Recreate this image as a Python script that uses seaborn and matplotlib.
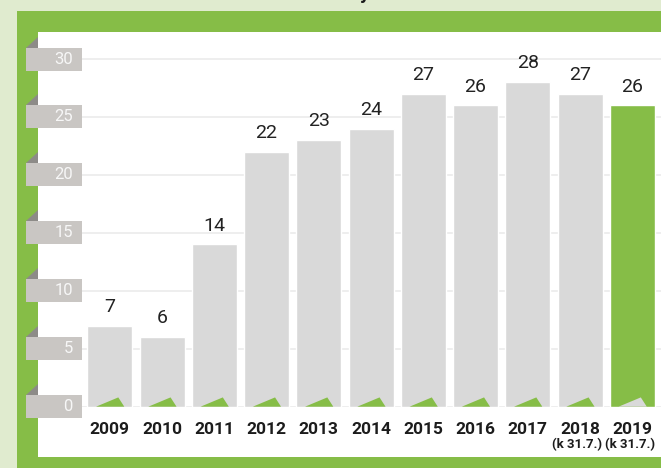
import numpy as np
import pandas as pd
import seaborn as sns
from matplotlib import pyplot as plt
from matplotlib import colors as mpl_colors
from matplotlib import transforms as mtrans
from matplotlib.patches import Rectangle, Polygon

years = ["2009", "2010", "2011", "2012", "2013", "2014", "2015", "2016", "2017", "2018", "2019"]
counts = [7, 6, 14, 22, 23, 24, 27, 26, 28, 27, 26]
notes = ["", "", "", "", "", "", "", "", "", "(k 31.7.)", "(k 31.7.)"]
y_ticks = [0, 5, 10, 15, 20, 25, 30]

GREEN = "#86bd47"
LIGHT_BG = "#e0ebcf"
BAR_GRAY = "#d9d9d9"
BOX_GRAY = "#c9c6c3"
FOLD_GRAY = "#8d8b88"

W, H = 661, 468

sns.set_style("white")
plt.rcParams["font.family"] = ["Roboto", "DejaVu Sans"]

df = pd.DataFrame({"year": years, "count": counts})
colors = [BAR_GRAY] * (len(years) - 1) + [GREEN]

fig = plt.figure(figsize=(W / 100, H / 100), dpi=100)
fig.patch.set_facecolor(LIGHT_BG)

# frame: green border and white panel (pixel coords, from top-left)
def px_rect(x0, y0, x1, y1, color, z):
    fig.patches.append(Rectangle((x0 / W, 1 - y1 / H), (x1 - x0) / W, (y1 - y0) / H,
                                 transform=fig.transFigure, facecolor=color,
                                 edgecolor="none", zorder=z))

px_rect(17, 11, W + 5, H + 5, GREEN, -2)
px_rect(37.5, 32, W + 5, 457, "white", -1)

# cut-off title descender
fig.text(365 / W, 1 + 0.6 / H, "y", ha="center", va="baseline", fontsize=14,
         fontweight="bold", color="#1a1a1a")

ax_l, ax_r = 81.7, 661
ax_b, ax_t = 406.7, 32
ax = fig.add_axes([ax_l / W, 1 - ax_b / H, (ax_r - ax_l) / W, (ax_b - ax_t) / H])
ax.set_facecolor("none")
ax.set_zorder(2)

sns.barplot(data=df, x="year", y="count", hue="year", palette=colors,
            width=0.86, dodge=False, legend=False, saturation=1, ax=ax)

px_per_unit = 11.59
ax.set_ylim(0, (ax_b - ax_t) / px_per_unit)
ax.set_xlim(-0.538, 10.549)
for s in ax.spines.values():
    s.set_visible(False)
ax.set_axisbelow(True)
ax.set_yticks(y_ticks)
ax.yaxis.grid(True, color="#ebebeb", linewidth=1.2)
ax.tick_params(axis="y", left=False, labelleft=False)
ax.tick_params(axis="x", bottom=False, pad=7.5)
ax.set_xlabel("")
ax.set_ylabel("")
for lab in ax.get_xticklabels():
    lab.set_fontweight("bold")
    lab.set_fontsize(12.5)
    lab.set_color("#1c1c1c")

# small triangles at the bottom of each bar
green_rgb = mpl_colors.to_rgb(GREEN)
for p in list(ax.patches):
    x, w = p.get_x(), p.get_width()
    fc = p.get_facecolor()
    tri_col = BAR_GRAY if np.allclose(fc[:3], green_rgb, atol=0.01) else GREEN
    tri = Polygon([(x + w * 8.7 / 45, 0), (x + w * 31 / 45, 9.3 / px_per_unit),
                   (x + w * 37 / 45, 0)], closed=True, facecolor=tri_col,
                  edgecolor="none", zorder=3)
    ax.add_patch(tri)

for c in ax.containers:
    ax.bar_label(c, fmt="%d", padding=7, fontsize=14, color="#222222")

# notes under the last ticks
note_tr = mtrans.blended_transform_factory(ax.transData, ax.transAxes)
for i, n in enumerate(notes):
    if n:
        ax.text(i - 0.05, -(445 - ax_b) / (ax_b - ax_t), n, transform=note_tr,
                ha="center", va="center", fontsize=9.5, fontweight="bold",
                color="#1c1c1c", clip_on=False)

# y tick labels in grey tabs with a folded corner
ax_w = ax_r - ax_l
tab_tr = mtrans.blended_transform_factory(ax.transAxes, ax.transData)
half = 11.5 / px_per_unit
fold = 11 / px_per_unit
for v in y_ticks:
    ax.add_patch(Rectangle(((25.5 - ax_l) / ax_w, v - half), (ax_l - 25.5) / ax_w, 2 * half,
                           transform=tab_tr, facecolor=BOX_GRAY, edgecolor="none",
                           clip_on=False, zorder=4))
    ax.add_patch(Polygon([((26 - ax_l) / ax_w, v + half), ((37.5 - ax_l) / ax_w, v + half),
                          ((37.5 - ax_l) / ax_w, v + half + fold)], closed=True,
                         transform=tab_tr, facecolor=FOLD_GRAY, edgecolor="none",
                         clip_on=False, zorder=4))
    ax.text((73 - ax_l) / ax_w, v, str(v), transform=tab_tr, ha="right", va="center",
            fontsize=12, color="#f7f7f7", clip_on=False, zorder=5)

fig.savefig("out.png", dpi=100, facecolor=fig.get_facecolor())
